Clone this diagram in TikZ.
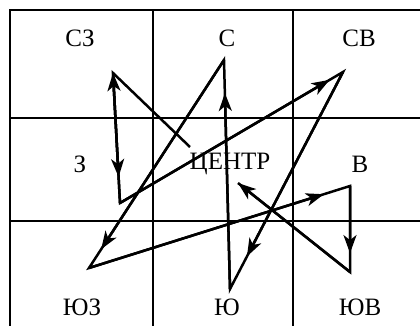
\documentclass[tikz,border=0pt]{standalone}
\usepackage{fontspec}
\setmainfont{Liberation Serif}
\usetikzlibrary{arrows.meta,calc}
\tikzset{
  gridline/.style={line width=2.6bp},
  trail/.style={line width=2.5bp, line join=miter},
  arr/.style={trail, -{Stealth[length=18bp,width=13bp,inset=5bp]}},
  lbl/.style={font=\fontsize{25bp}{29bp}\selectfont, inner sep=0pt}
}
\begin{document}
\begin{tikzpicture}[x=1bp,y=-1bp]
\useasboundingbox (0,0) rectangle (420,326);
% grid
\draw[gridline] (10,326) -- (10,10) -- (420,10);
\draw[gridline] (10,118) -- (420,118);
\draw[gridline] (10,221) -- (420,221);
\draw[gridline] (153,10) -- (153,326);
\draw[gridline] (293,10) -- (293,326);
% labels
\node[lbl] (nw) at (80,38) {СЗ};
\node[lbl] (n) at (227,38) {С};
\node[lbl] (ne) at (359,38) {СВ};
\node[lbl] (w) at (80,164) {З};
\node[lbl] (c) at (230,164) {ЦЕНТР};
\node[lbl] (e) at (360,164) {В};
\node[lbl] (sw) at (82,307) {ЮЗ};
\node[lbl] (s) at (227,307) {Ю};
\node[lbl] (se) at (360,307) {ЮВ};
% path vertices
\coordinate (A) at (190,147);
\coordinate (B) at (113,73);
\coordinate (C) at (120,203);
\coordinate (D) at (343,72);
\coordinate (E) at (230,289);
\coordinate (F) at (224,60);
\coordinate (G) at (89,268);
\coordinate (H) at (350,186);
\coordinate (I) at (350,272);
\coordinate (J) at (238,183);
\draw[trail] (A) -- (B) -- (C) -- (D) -- (E) -- (F) -- (G) -- (H) -- (I) -- (J);
\draw[arr] (C) -- (B);
\draw[arr] (B) -- ($(B)!0.8!(C)$);
\draw[arr] (C) -- ($(C)!0.94!(D)$);
\draw[arr] (D) -- ($(D)!0.85!(E)$);
\draw[arr] (E) -- ($(E)!0.856!(F)$);
\draw[arr] (F) -- ($(F)!0.91!(G)$);
\draw[arr] (G) -- ($(G)!0.9!(H)$);
\draw[arr] (H) -- ($(H)!0.78!(I)$);
\draw[arr] (I) -- (J);
\end{tikzpicture}
\end{document}
